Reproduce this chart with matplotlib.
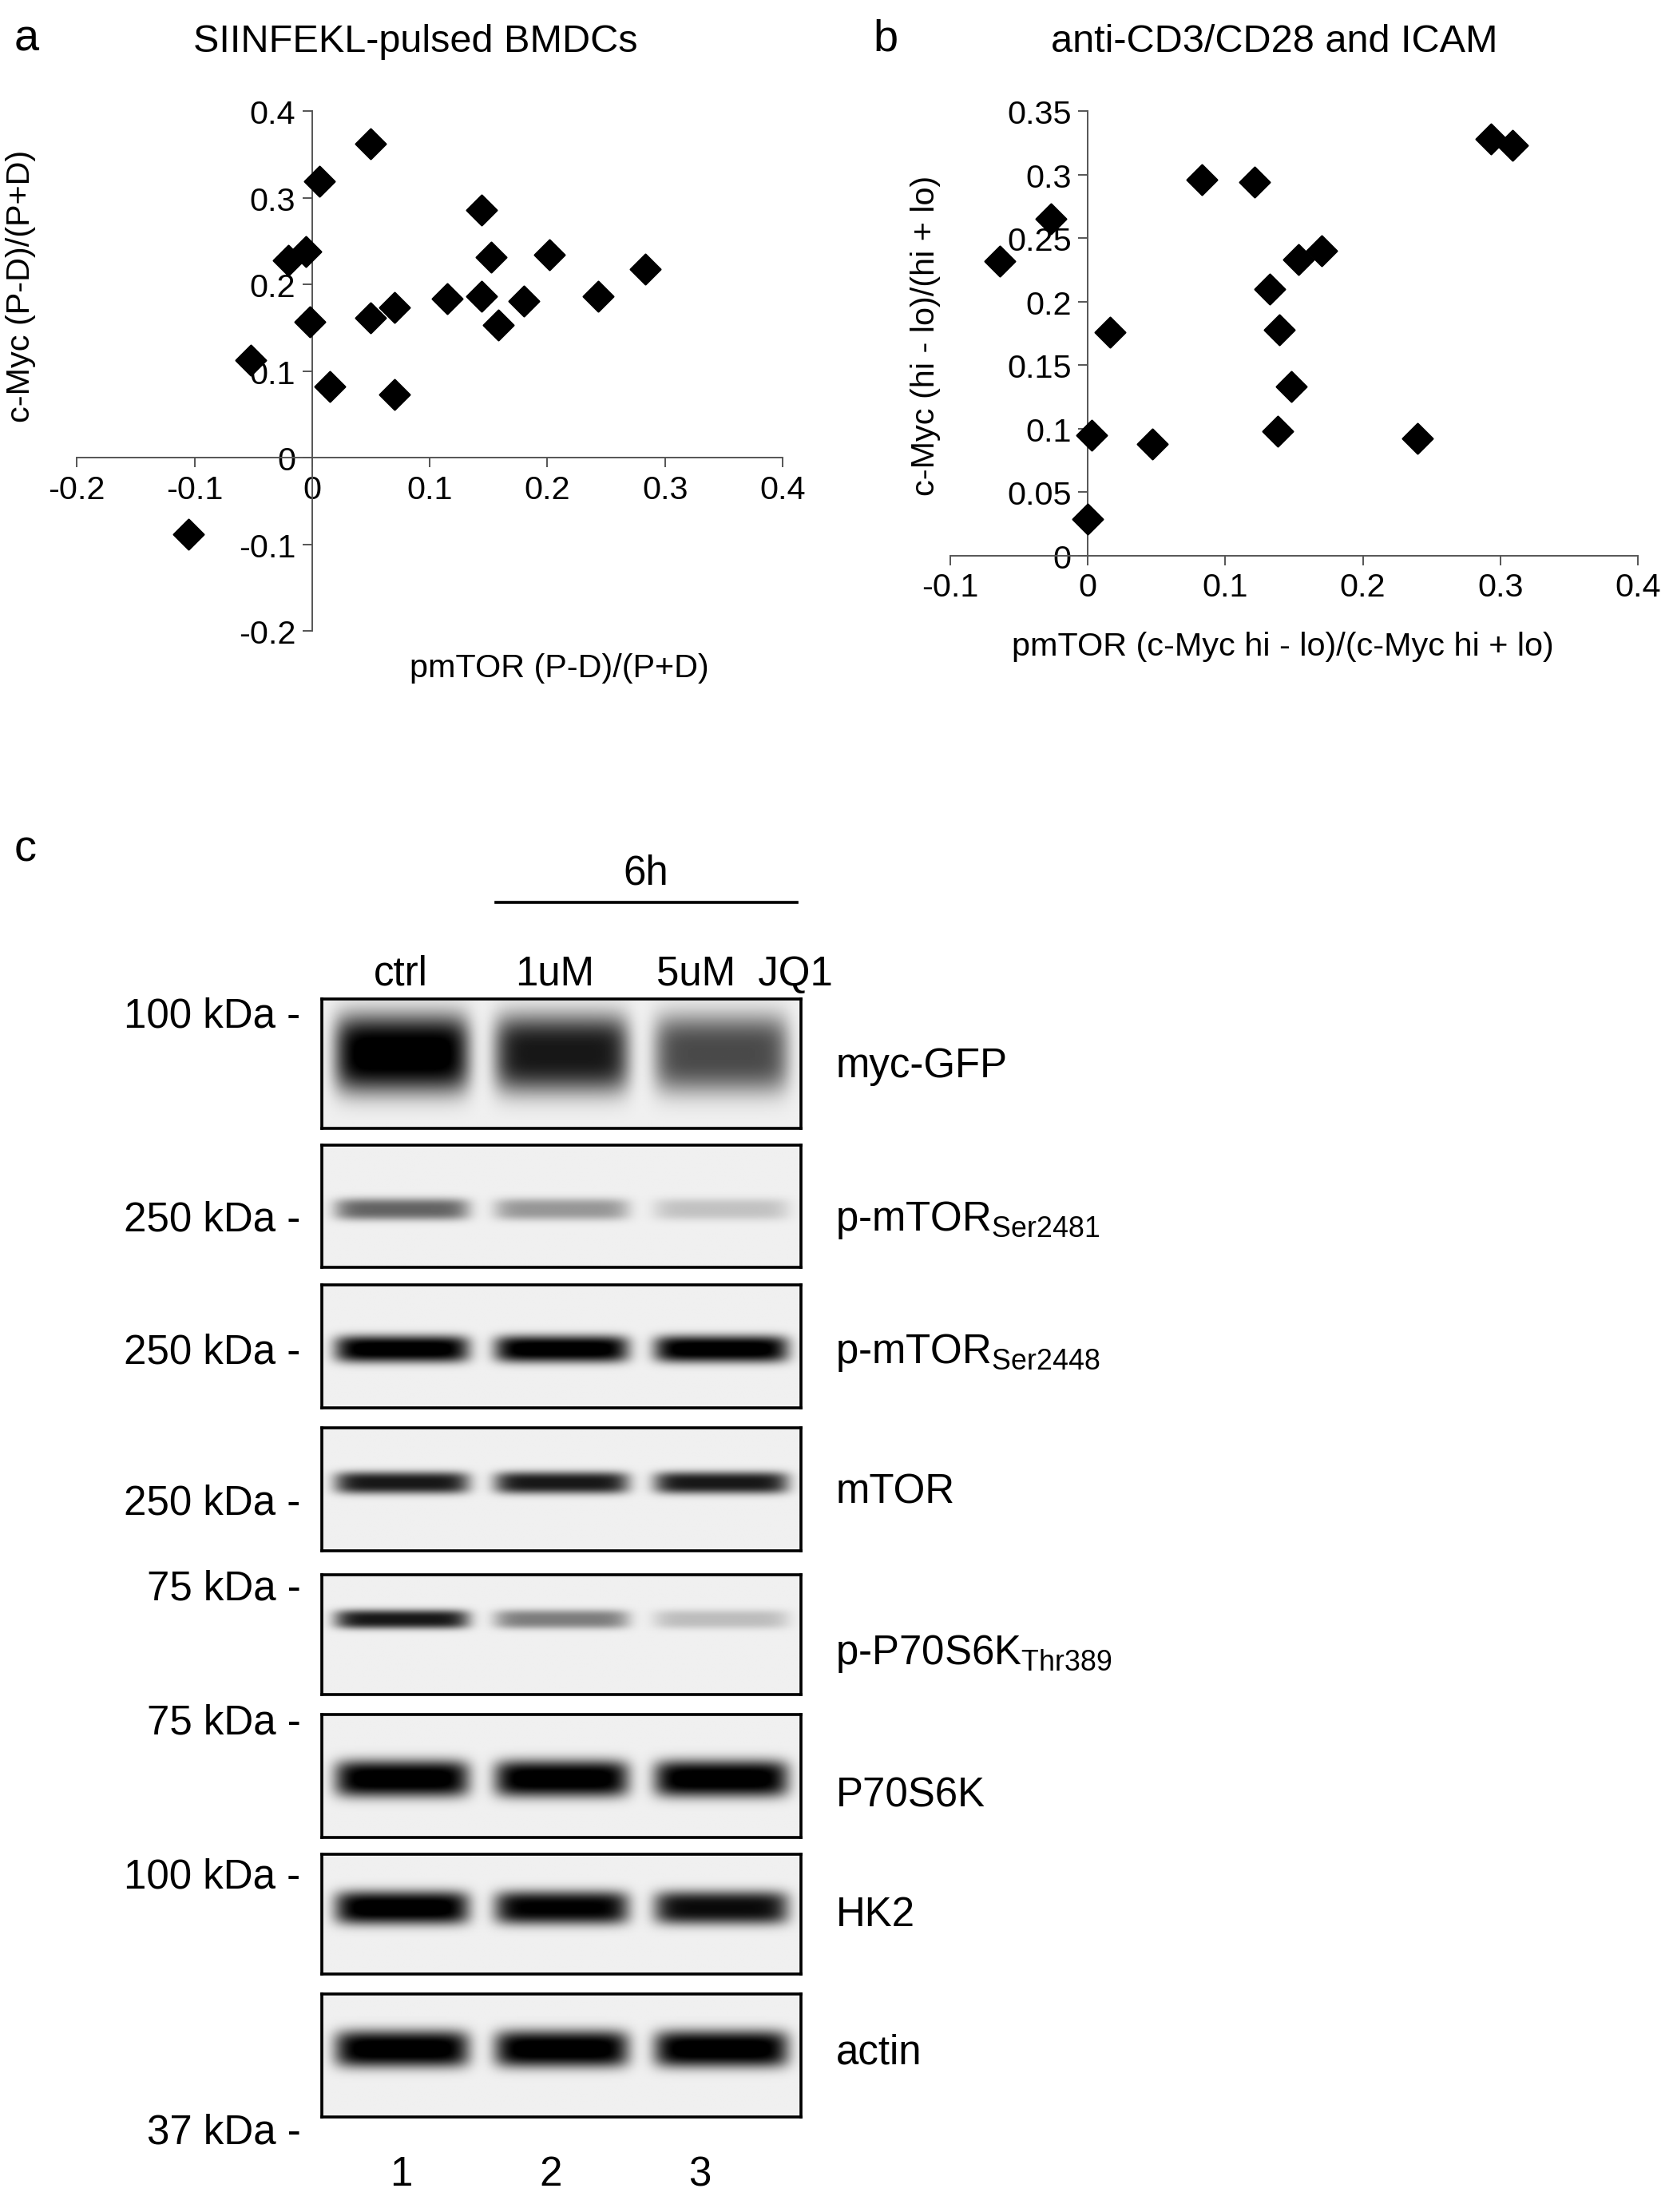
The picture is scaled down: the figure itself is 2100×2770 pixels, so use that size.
import numpy as np
import matplotlib
matplotlib.use("Agg")
import matplotlib.pyplot as plt

plt.rcParams['font.family'] = ['Liberation Sans', 'DejaVu Sans']

# panel a: SIINFEKL-pulsed BMDCs
a_x = [-0.105, -0.052, -0.02, -0.005, -0.002, 0.006, 0.015, 0.05, 0.05, 0.07,
       0.07, 0.115, 0.144, 0.144, 0.152, 0.158, 0.18, 0.202, 0.243, 0.283]
a_y = [-0.088, 0.113, 0.228, 0.238, 0.157, 0.319, 0.082, 0.362, 0.161, 0.173,
       0.073, 0.184, 0.186, 0.286, 0.231, 0.153, 0.181, 0.234, 0.186, 0.218]

# panel b: anti-CD3/CD28 and ICAM
b_x = [-0.064, -0.027, 0.016, 0.003, 0.0, 0.047, 0.083, 0.121, 0.132, 0.153,
       0.170, 0.139, 0.148, 0.138, 0.240, 0.293, 0.309]
b_y = [0.232, 0.265, 0.176, 0.095, 0.029, 0.088, 0.296, 0.294, 0.210, 0.233,
       0.240, 0.178, 0.133, 0.098, 0.092, 0.328, 0.323]

# panel c: western blot, band darkness per lane (ctrl, 1uM, 5uM)
blot_names = ['myc-GFP', 'p-mTOR$_{\\mathregular{Ser2481}}$', 'p-mTOR$_{\\mathregular{Ser2448}}$',
              'mTOR', 'p-P70S6K$_{\\mathregular{Thr389}}$', 'P70S6K', 'HK2', 'actin']
blot_levels = [[1.0, 0.85, 0.65], [0.55, 0.35, 0.18], [1.0, 1.0, 1.0], [0.85, 0.85, 0.85],
               [0.85, 0.45, 0.2], [1.0, 1.0, 1.0], [1.0, 0.95, 0.9], [1.0, 1.0, 1.0]]
blot_thick = [0.6, 0.18, 0.22, 0.18, 0.16, 0.3, 0.28, 0.3]
blot_center = [0.15, -0.05, -0.05, 0.1, 0.25, -0.05, 0.1, 0.1]
kda_labels = ['100 kDa -', '250 kDa -', '250 kDa -', '250 kDa -', '75 kDa -', '75 kDa -',
              '100 kDa -', '37 kDa -']
kda_y = [727, 873, 968, 1076, 1137, 1233, 1343, 1526]
name_y = [763, 873, 968, 1068, 1183, 1285, 1370, 1469]
box_y = [(715, 808), (820, 907), (920, 1008), (1022, 1110), (1127, 1213),
         (1227, 1315), (1327, 1413), (1427, 1515)]
lane_labels = ['1', '2', '3']

W, H = 1200.0, 1583.0
fig = plt.figure(figsize=(12, 15.834), dpi=175)


def fx(px):
    return px / W


def fy(py):
    return 1 - py / H


def scatter_panel(rect, xs, ys, xlim, ylim, xticks, yticks):
    ax = fig.add_axes(rect)
    ax.scatter(xs, ys, marker='D', s=120, color='black', zorder=3)
    ax.set_xlim(*xlim)
    ax.set_ylim(*ylim)
    for s in ['top', 'right']:
        ax.spines[s].set_visible(False)
    ax.spines['left'].set_position(('data', 0))
    ax.spines['bottom'].set_position(('data', 0))
    ax.set_xticks(xticks)
    ax.set_yticks(yticks)
    ax.set_xticklabels([('%g' % t) for t in xticks])
    ax.set_yticklabels([('%g' % t) for t in yticks])
    ax.tick_params(labelsize=17, length=5, color='#555555')
    for s in ['left', 'bottom']:
        ax.spines[s].set_color('#555555')
    return ax


scatter_panel([fx(55), fy(452), fx(560) - fx(55), fy(80) - fy(452)], a_x, a_y,
              (-0.2, 0.4), (-0.2, 0.4), [-0.2, -0.1, 0, 0.1, 0.2, 0.3, 0.4],
              [-0.2, -0.1, 0, 0.1, 0.2, 0.3, 0.4])
scatter_panel([fx(680), fy(398), fx(1172) - fx(680), fy(80) - fy(398)], b_x, b_y,
              (-0.1, 0.4), (0, 0.35), [-0.1, 0, 0.1, 0.2, 0.3, 0.4],
              [0, 0.05, 0.1, 0.15, 0.2, 0.25, 0.3, 0.35])

fig.text(fx(297), fy(30), 'SIINFEKL-pulsed BMDCs', fontsize=20, ha='center', va='center')
fig.text(fx(912), fy(30), 'anti-CD3/CD28 and ICAM', fontsize=20, ha='center', va='center')
fig.text(fx(400), fy(478), 'pmTOR (P-D)/(P+D)', fontsize=17, ha='center', va='center')
fig.text(fx(15), fy(205), 'c-Myc (P-D)/(P+D)', fontsize=17, ha='center', va='center', rotation=90)
fig.text(fx(918), fy(463), 'pmTOR (c-Myc hi - lo)/(c-Myc hi + lo)', fontsize=17, ha='center', va='center')
fig.text(fx(662), fy(240), 'c-Myc (hi - lo)/(hi + lo)', fontsize=17, ha='center', va='center', rotation=90)
for lab, x, y in [('a', 10, 28), ('b', 625, 28), ('c', 10, 608)]:
    fig.text(fx(x), fy(y), lab, fontsize=23, ha='left', va='center')

# blot boxes
xg = np.linspace(0, 3, 400)
yg = np.linspace(-1, 1, 120)
X, Y = np.meshgrid(xg, yg)
for i in range(len(blot_names)):
    top, bot = box_y[i]
    ax = fig.add_axes([fx(230), fy(bot), fx(573) - fx(230), fy(top) - fy(bot)])
    img = np.full(X.shape, 0.06)
    for j, lvl in enumerate(blot_levels[i]):
        px = np.exp(-((X - (j + 0.5)) / 0.42) ** 8)
        py = np.exp(-(np.abs(Y - blot_center[i]) / blot_thick[i]) ** 3)
        img = img + lvl * px * py
    ax.imshow(np.clip(img, 0, 1), cmap='gray_r', vmin=0, vmax=1, aspect='auto',
              extent=(0, 3, -1, 1), origin='lower', interpolation='bilinear')
    ax.set_xticks([])
    ax.set_yticks([])
    for s in ax.spines.values():
        s.set_linewidth(1.5)
    fig.text(fx(215), fy(kda_y[i]), kda_labels[i], fontsize=21, ha='right', va='center')
    fig.text(fx(598), fy(name_y[i]), blot_names[i], fontsize=21, ha='left', va='center')

fig.text(fx(287), fy(697), 'ctrl', fontsize=21, ha='center', va='center')
fig.text(fx(397), fy(697), '1uM', fontsize=21, ha='center', va='center')
fig.text(fx(470), fy(697), '5uM  JQ1', fontsize=21, ha='left', va='center')
fig.text(fx(462), fy(625), '6h', fontsize=21, ha='center', va='center')
fig.add_artist(plt.Line2D([fx(355), fx(570)], [fy(646), fy(646)], color='black', lw=1.5))
for j, lab in enumerate(lane_labels):
    fig.text(fx(287 + 107 * j), fy(1556), lab, fontsize=21, ha='center', va='center')

fig.savefig('out.png', dpi=175)
